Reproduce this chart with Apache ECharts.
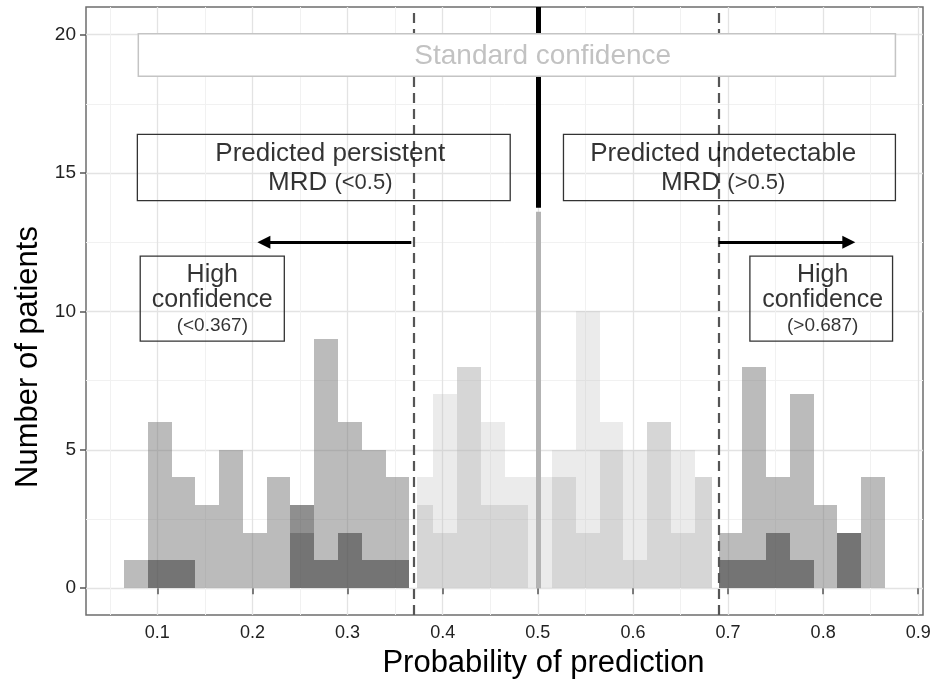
<!DOCTYPE html>
<html>
<head>
<meta charset="utf-8">
<script src="https://cdn.jsdelivr.net/npm/echarts@6/dist/echarts.min.js"></script>
<style>
html,body{margin:0;padding:0;background:#fff;}
#chart{width:931px;height:684px;}
</style>
</head>
<body>
<div id="chart"></div>
<script>
// ---------------- data ----------------
const BIN_WIDTH = 0.025;

// high-confidence region (< 0.367)
const leftBinStarts = [0.065, 0.09, 0.115, 0.14, 0.165, 0.19, 0.215, 0.24, 0.265, 0.29, 0.315, 0.34];
const leftLight     = [1, 6, 4, 3, 5, 2, 4, 2, 9, 6, 5, 4];
const leftDark      = [0, 1, 1, 0, 0, 0, 0, 3, 1, 2, 1, 1];

// standard-confidence region (0.367 - 0.687)
const midBinStarts = [0.365, 0.39, 0.415, 0.44, 0.465, 0.49, 0.515, 0.54, 0.565, 0.59, 0.615, 0.64, 0.665];
const midLight     = [4, 7, 8, 6, 4, 4, 5, 10, 6, 5, 6, 5, 4];
const midDark      = [3, 2, 8, 3, 3, 0, 4, 2, 5, 1, 6, 2, 4];
const midRange     = [0.373, 0.683];

// high-confidence region (> 0.687)
const rightBinStarts = [0.69, 0.715, 0.74, 0.765, 0.79, 0.815, 0.84];
const rightLight     = [2, 8, 4, 7, 3, 2, 4];
const rightDark      = [1, 1, 2, 1, 0, 2, 0];

const cutoffs   = [0.367, 0.687];
const threshold = 0.5;
const thresholdSplit = [13.75, 13.6];   // black part above, grey part below

const xTicks = [0.1, 0.2, 0.3, 0.4, 0.5, 0.6, 0.7, 0.8, 0.9];
const yTicks = [0, 5, 10, 15, 20];

const arrowLeft  = [[0.367, 12.5], [0.212, 12.5]];
const arrowRight = [[0.69, 12.5], [0.827, 12.5]];

const stdBox   = [[0.08, 18.5], [0.876, 20.03]];
const predBoxes = [
  [[0.079, 14.0], [0.471, 16.4]],
  [[0.527, 14.0], [0.876, 16.4]],
  [[0.082, 8.93], [0.2335, 12.0]],
  [[0.723, 8.93], [0.873, 12.0]]
];

const labelTexts = [
  [0.5052, 19.22, '{std|Standard confidence}'],
  [0.2818, 15.17, '{big|Predicted persistent}\n{big|MRD }{small|(<0.5)}'],
  [0.6949, 15.17, '{big|Predicted undetectable}\n{big|MRD }{small|(>0.5)}'],
  [0.1578, 10.38, '{hc|High}\n{hc|confidence}\n{hcs|(<0.367)}'],
  [0.7995, 10.38, '{hc|High}\n{hc|confidence}\n{hcs|(>0.687)}']
];

// ---------------- chart ----------------
const FONT = "'Liberation Sans', Arial, Helvetica, sans-serif";
const chart = echarts.init(document.getElementById('chart'), null, {renderer: 'canvas'});

function histSeries(name, starts, counts, color, clip, z) {
  const data = starts.map((s, i) => {
    let x0 = s, x1 = s + BIN_WIDTH;
    if (clip) { x0 = Math.max(x0, clip[0]); x1 = Math.min(x1, clip[1]); }
    return [x0, x1, counts[i]];
  });
  return {
    type: 'custom', name: name, z: z, silent: true, animation: false,
    data: data,
    encode: {x: [0, 1], y: 2},
    renderItem: function (params, api) {
      const h = api.value(2);
      if (!h) return null;
      const a = api.coord([api.value(0), h]);
      const b = api.coord([api.value(1), 0]);
      const x = Math.round(a[0]), y = Math.round(a[1]);
      return {
        type: 'rect',
        shape: {x: x, y: y, width: Math.round(b[0]) - x, height: Math.round(b[1]) - y},
        style: {fill: color}
      };
    }
  };
}

const TXT = '#000';
const richStyles = {
  std:   {fontFamily: FONT, fontSize: 28, color: '#b3b3b3'},
  big:   {fontFamily: FONT, fontSize: 26, lineHeight: 29, color: TXT},
  small: {fontFamily: FONT, fontSize: 22, lineHeight: 29, color: TXT},
  hc:    {fontFamily: FONT, fontSize: 25, lineHeight: 25, color: TXT},
  hcs:   {fontFamily: FONT, fontSize: 19, lineHeight: 27, color: TXT}
};

const option = {
  backgroundColor: '#ffffff',
  animation: false,
  grid: {
    left: 86, top: 7, width: 837, height: 608,
    show: true, borderColor: '#6e6e6e', borderWidth: 1.5,
    backgroundColor: 'transparent',
    containLabel: false, outerBoundsMode: 'none'
  },
  xAxis: {
    type: 'value', min: 0.025, max: 0.905, splitNumber: 8,
    name: 'Probability of prediction', nameLocation: 'middle', nameGap: 33,
    nameTextStyle: {fontFamily: FONT, fontSize: 31, color: '#000', padding: [0, 0, 0, 78]},
    axisLine: {show: false},
    axisTick: {show: true, length: 6, lineStyle: {color: '#555', width: 1.5}, customValues: xTicks},
    axisLabel: {margin: 9, fontFamily: FONT, fontSize: 18, color: '#222', customValues: xTicks},
    splitLine: {show: true, lineStyle: {color: '#e3e3e3', width: 1.3}},
    minorTick: {show: false, splitNumber: 2},
    minorSplitLine: {show: true, lineStyle: {color: '#f1f1f1', width: 1}}
  },
  yAxis: {
    type: 'value', min: -0.97, max: 21, splitNumber: 5,
    name: 'Number of patients', nameLocation: 'middle', nameGap: 41,
    nameTextStyle: {fontFamily: FONT, fontSize: 31, color: '#000', padding: [0, 92, 0, 0]},
    axisLine: {show: false},
    axisTick: {show: true, length: 6, lineStyle: {color: '#555', width: 1.5}, customValues: yTicks},
    axisLabel: {margin: 10, fontFamily: FONT, fontSize: 19, color: '#222', customValues: yTicks},
    splitLine: {show: true, lineStyle: {color: '#e3e3e3', width: 1.3}},
    minorTick: {show: false, splitNumber: 2},
    minorSplitLine: {show: true, lineStyle: {color: '#f1f1f1', width: 1}}
  },
  series: [
    histSeries('left light', leftBinStarts, leftLight, 'rgba(119,119,119,0.5)', null, 2),
    histSeries('left dark', leftBinStarts, leftDark, 'rgba(68,68,68,0.6)', null, 3),
    histSeries('mid light', midBinStarts, midLight, 'rgba(188,188,188,0.3)', midRange, 2),
    histSeries('mid dark', midBinStarts, midDark, 'rgba(175,175,175,0.35)', midRange, 3),
    histSeries('right light', rightBinStarts, rightLight, 'rgba(119,119,119,0.5)', null, 2),
    histSeries('right dark', rightBinStarts, rightDark, 'rgba(68,68,68,0.6)', null, 3),
    {
      type: 'line', data: [], silent: true, z: 5,
      markLine: {
        silent: true, symbol: 'none', z: 5, animation: false,
        label: {show: false},
        data: [
          {xAxis: cutoffs[0], lineStyle: {color: '#555', width: 2.2, type: [10, 6]}},
          {xAxis: cutoffs[1], lineStyle: {color: '#555', width: 2.2, type: [10, 6]}},
          [{coord: [threshold, thresholdSplit[0]], lineStyle: {color: '#000', width: 5, type: 'solid'}},
           {coord: [threshold, 21]}],
          [{coord: [threshold, 0], lineStyle: {color: '#b3b3b3', width: 5, type: 'solid'}},
           {coord: [threshold, thresholdSplit[1]]}]
        ]
      }
    },
    {
      type: 'line', data: [], silent: true, z: 6,
      markLine: {
        silent: true, symbol: ['none', 'triangle'], symbolSize: 13, z: 6, animation: false,
        label: {show: false},
        lineStyle: {color: '#000', width: 3, type: 'solid'},
        data: [
          [{coord: arrowLeft[0]}, {coord: arrowLeft[1]}],
          [{coord: arrowRight[0]}, {coord: arrowRight[1]}]
        ]
      }
    },
    {
      type: 'line', data: [], silent: true, z: 7,
      markArea: {
        silent: true, z: 7, animation: false,
        itemStyle: {color: 'rgba(0,0,0,0)', borderColor: '#333', borderWidth: 1.3},
        label: {show: false},
        data: predBoxes.map(b => [{coord: b[0]}, {coord: b[1]}])
      }
    },
    {
      type: 'line', data: [], silent: true, z: 10,
      markArea: {
        silent: true, z: 10, animation: false,
        itemStyle: {color: '#ffffff', borderColor: '#c4c4c4', borderWidth: 1.5, opacity: 1},
        label: {show: false},
        data: [[{coord: stdBox[0]}, {coord: stdBox[1]}]]
      }
    },
    {
      type: 'scatter', z: 12, silent: true, animation: false,
      symbolSize: 1,
      itemStyle: {color: 'rgba(0,0,0,0)'},
      data: labelTexts.map(t => ({value: [t[0], t[1]], text: t[2]})),
      label: {
        show: true, position: 'inside', align: 'center', verticalAlign: 'middle',
        color: TXT, textBorderWidth: 0,
        formatter: function (p) { return p.data.text; },
        rich: richStyles
      }
    }
  ]
};
chart.setOption(option);
</script>
</body>
</html>
